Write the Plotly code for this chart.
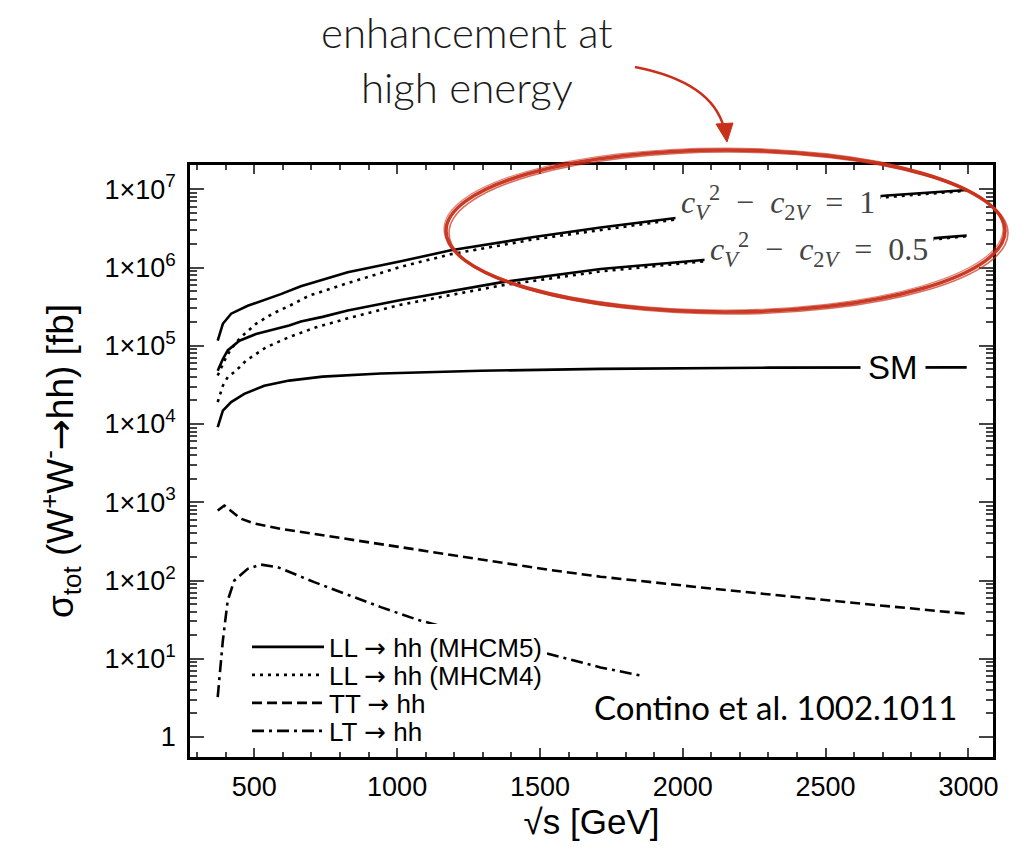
import plotly.graph_objects as go

# ---------------- data ----------------
s_ll5_c1 = [372, 390, 419, 477, 593, 663, 710, 827, 1013, 1188, 1479, 1712, 1969, 2300, 2500, 2715, 2994]
ll5_c1 = [1.16e5, 1.91e5, 2.57e5, 3.24e5, 4.57e5, 5.75e5, 6.46e5, 8.71e5, 1.20e6, 1.66e6, 2.45e6,
          3.24e6, 4.27e6, 5.89e6, 7.08e6, 8.32e6, 9.77e6]

s_ll4_c1 = [372, 390, 401, 419, 442, 465, 506, 564, 634, 692, 827, 1013, 1188, 1479, 1712, 1969, 2300,
            2500, 2715, 2994]
ll4_c1 = [4.17e4, 5.75e4, 7.08e4, 9.12e4, 1.16e5, 1.41e5, 1.91e5, 2.57e5, 3.39e5, 4.37e5, 6.31e5,
          1.02e6, 1.48e6, 2.29e6, 3.02e6, 4.07e6, 5.62e6, 6.76e6, 7.94e6, 9.55e6]

s_ll5_c05 = [372, 390, 407, 448, 506, 622, 663, 739, 827, 1013, 1363, 1712, 2062, 2500, 2913, 2994]
ll5_c05 = [4.79e4, 6.76e4, 8.71e4, 1.16e5, 1.41e5, 1.82e5, 2.04e5, 2.34e5, 2.82e5, 3.85e5, 6.46e5,
           9.55e5, 1.24e6, 1.78e6, 2.43e6, 2.57e6]

s_ll4_c05 = [372, 390, 407, 436, 471, 541, 622, 716, 827, 1013, 1363, 1712, 2062, 2500, 2913, 2994]
ll4_c05 = [1.91e4, 3.09e4, 3.98e4, 4.79e4, 6.46e4, 9.55e4, 1.29e5, 1.72e5, 2.24e5, 3.35e5, 5.89e5,
           8.91e5, 1.19e6, 1.70e6, 2.34e6, 2.51e6]

s_sm = [372, 390, 419, 465, 535, 622, 739, 943, 1293, 1712, 2300, 2994]
sm = [9.12e3, 1.48e4, 1.91e4, 2.43e4, 3.09e4, 3.59e4, 4.03e4, 4.42e4, 4.79e4, 5.07e4, 5.25e4, 5.30e4]

s_tt = [372, 395, 453, 500, 593, 827, 1060, 1293, 1526, 1712, 2109, 2575, 2994]
tt = [783, 908, 617, 537, 457, 339, 251, 186, 138, 112, 78.3, 52.8, 37.6]

s_lt = [372, 390, 407, 430, 477, 523, 582, 710, 943, 1071, 1223, 1619, 1712, 1852]
lt = [3.24, 17.1, 55.6, 100, 141, 160, 148, 95.5, 45.7, 31.6, 22.4, 9.33, 7.76, 6.12]

ARROW = "<span style='font-family:DejaVu Sans'>→</span>"
legend_names = [f"LL {ARROW} hh (MHCM5)", f"LL {ARROW} hh (MHCM4)", f"TT {ARROW} hh", f"LT {ARROW} hh"]
x_tickvals = [500, 1000, 1500, 2000, 2500, 3000]
y_tickvals = [1, 10, 100, 1e3, 1e4, 1e5, 1e6, 1e7]
y_ticktext = ["1", "1×10<sup>1</sup>", "1×10<sup>2</sup>", "1×10<sup>3</sup>", "1×10<sup>4</sup>",
              "1×10<sup>5</sup>", "1×10<sup>6</sup>", "1×10<sup>7</sup>"]

# ---------------- figure ----------------
SANS = "Liberation Sans, Arial, Helvetica, sans-serif"
LW = 2.6

fig = go.Figure()
fig.add_trace(go.Scatter(x=s_ll5_c1, y=ll5_c1, mode="lines", name=legend_names[0], legendgroup="ll5",
                         legend="legend", line=dict(color="black", width=LW)))
fig.add_trace(go.Scatter(x=s_ll4_c1, y=ll4_c1, mode="lines", name=legend_names[1], legendgroup="ll4",
                         legend="legend2", line=dict(color="black", width=LW, dash="3px,5px")))
fig.add_trace(go.Scatter(x=s_tt, y=tt, mode="lines", name=legend_names[2], legendgroup="tt",
                         legend="legend3", line=dict(color="black", width=LW, dash="10px,5px")))
fig.add_trace(go.Scatter(x=s_lt, y=lt, mode="lines", name=legend_names[3], legendgroup="lt",
                         legend="legend4", line=dict(color="black", width=LW, dash="12px,5px,3px,5px")))
fig.add_trace(go.Scatter(x=s_ll5_c05, y=ll5_c05, mode="lines", legendgroup="ll5", showlegend=False,
                         line=dict(color="black", width=LW)))
fig.add_trace(go.Scatter(x=s_ll4_c05, y=ll4_c05, mode="lines", legendgroup="ll4", showlegend=False,
                         line=dict(color="black", width=LW, dash="3px,5px")))
fig.add_trace(go.Scatter(x=s_sm, y=sm, mode="lines", legendgroup="ll5", showlegend=False,
                         line=dict(color="black", width=LW)))

minor_y = [m * 10 ** e for e in range(0, 7) for m in range(2, 10)]


def px2paper(px, py):
    # plot area occupies page pixels x 190..993, y 165..757
    return (px - 190) / 803.0, (757 - py) / 592.0


LEG_FONT = dict(family=SANS, size=26, color="black")
leg_x = px2paper(247, 0)[0]
legends = {}
for i, row_y in enumerate([647, 675, 703, 731]):
    key = "legend" if i == 0 else f"legend{i + 1}"
    legends[key] = dict(x=leg_x, y=px2paper(0, row_y)[1], xanchor="left", yanchor="middle",
                        bgcolor="white" if i == 0 else "rgba(0,0,0,0)",
                        font=LEG_FONT, itemwidth=72, borderwidth=0)

# page body has an 8px margin -> figure is 1023x843 placed at (8,8)
fig.update_layout(
    width=1023, height=843,
    margin=dict(l=182, r=38, t=157, b=94),
    paper_bgcolor="white", plot_bgcolor="white",
    font=dict(family=SANS, color="black"),
    showlegend=True,
    xaxis=dict(range=[275, 3086], tickvals=x_tickvals, ticks="inside", ticklen=9, tickwidth=2,
               showline=True, linewidth=2.5, linecolor="black", mirror="allticks",
               showgrid=False, zeroline=False,
               tickfont=dict(family=SANS, size=27, color="black"), ticklabelstandoff=4,
               minor=dict(dtick=100, tick0=0, ticks="inside", ticklen=5, tickwidth=1.5, showgrid=False),
               title=dict(text="√s [GeV]", font=dict(family=SANS, size=35, color="black"), standoff=8)),
    yaxis=dict(type="log", range=[-0.255, 7.31], tickvals=y_tickvals, ticktext=y_ticktext,
               ticks="inside", ticklen=14, tickwidth=2,
               showline=True, linewidth=2.5, linecolor="black", mirror="allticks",
               showgrid=False, zeroline=False,
               tickfont=dict(family=SANS, size=27, color="black"), ticklabelstandoff=6,
               minor=dict(tickvals=minor_y, ticks="inside", ticklen=7, tickwidth=1.5, showgrid=False),
               title=dict(text=f"σ<sub>tot</sub> (W<sup>+</sup>W<sup>-</sup>{ARROW}hh) [fb]",
                          font=dict(family=SANS, size=37, color="black"), standoff=20)),
    **legends,
)

RED = "#c9301a"

# hand-drawn-like red ellipse
for dx, dy, w, op in [(0, 0, 3.5, 0.95), (3, 2, 1.6, 0.7), (-2, -2, 1.2, 0.6)]:
    x0, y1 = px2paper(446 + dx, 150 + dy)
    x1, y0 = px2paper(1005 + dx, 312 + dy)
    fig.add_shape(type="circle", xref="paper", yref="paper", x0=x0, x1=x1, y0=y0, y1=y1,
                  line=dict(color=RED, width=w), opacity=op, layer="above")

# curved red arrow
a = px2paper(635, 67)
c = px2paper(712, 82)
b = px2paper(724, 128)
fig.add_shape(type="path", xref="paper", yref="paper",
              path=f"M {a[0]},{a[1]} Q {c[0]},{c[1]} {b[0]},{b[1]}",
              line=dict(color=RED, width=2.5), layer="above")
t1 = px2paper(716, 124)
t2 = px2paper(733, 123)
t3 = px2paper(727, 142)
fig.add_shape(type="path", xref="paper", yref="paper",
              path=f"M {t1[0]},{t1[1]} L {t2[0]},{t2[1]} L {t3[0]},{t3[1]} Z",
              line=dict(color=RED, width=1), fillcolor=RED, layer="above")


# annotations
def ann(px, py, text, size, family, bg=None, pad=1, color="black", weight=None):
    x, y = px2paper(px, py)
    f = dict(family=family, size=size, color=color)
    if weight:
        f["weight"] = weight
    d = dict(x=x, y=y, xref="paper", yref="paper", text=text, showarrow=False,
             xanchor="center", yanchor="middle", font=f, borderpad=pad)
    if bg:
        d["bgcolor"] = bg
    fig.add_annotation(**d)


ann(467, 60, "enhancement at<br>high energy", 42, "Lato, Open Sans, sans-serif", color="#1a1a1a",
    weight=300, pad=0)
ann(775, 707, "Contino et al. 1002.1011", 33, "Lato, Open Sans, sans-serif")
ann(893, 367, "SM", 33, SANS, bg="white", pad=7)
MATH = "Liberation Serif, DejaVu Serif, serif"
SP = "\u2002"
ann(778, 202, f"<i>c</i><sub><i>V</i></sub><sup>2</sup>{SP}−{SP}<i>c</i><sub>2<i>V</i></sub>{SP}={SP}1",
    32, MATH, bg="white", pad=5, color="#444")
ann(819, 249, f"<i>c</i><sub><i>V</i></sub><sup>2</sup>{SP}−{SP}<i>c</i><sub>2<i>V</i></sub>{SP}={SP}0.5",
    32, MATH, bg="white", pad=5, color="#444")

fig.write_html("out.html")
